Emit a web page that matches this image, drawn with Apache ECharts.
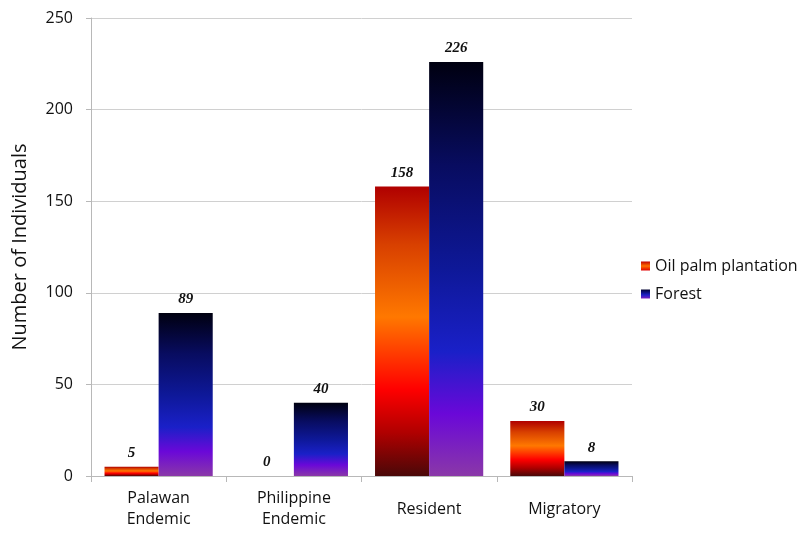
<!DOCTYPE html>
<html><head><meta charset="utf-8">
<script src="https://cdn.jsdelivr.net/npm/echarts@6/dist/echarts.min.js"></script>
<style>html,body{margin:0;padding:0;background:#fff}#c{width:802px;height:539px}</style>
</head><body><div id="c"></div>
<script>
const categories = ['Palawan\nEndemic', 'Philippine\nEndemic', 'Resident', 'Migratory'];
const oilPalm = [5, 0, 158, 30];
const forest = [89, 40, 226, 8];
const yTicks = {min: 0, max: 250, interval: 50};

const oilGrad = new echarts.graphic.LinearGradient(0, 0, 0, 1, [
  {offset: 0, color: '#b00000'},
  {offset: 0.2, color: '#d84000'},
  {offset: 0.45, color: '#ff7800'},
  {offset: 0.7, color: '#ff0000'},
  {offset: 0.85, color: '#b00000'},
  {offset: 1, color: '#4a0808'}
]);
const forestGrad = new echarts.graphic.LinearGradient(0, 0, 0, 1, [
  {offset: 0, color: '#000010'},
  {offset: 0.25, color: '#080c60'},
  {offset: 0.5, color: '#0e1898'},
  {offset: 0.7, color: '#1a20c8'},
  {offset: 0.85, color: '#6a08d8'},
  {offset: 1, color: '#8a38a8'}
]);
const labelStyle = {show: true, position: 'top', fontFamily: 'Liberation Serif', fontWeight: 'bold', fontStyle: 'italic', fontSize: 15, color: '#111', distance: 6};
const axisFont = {fontFamily: 'Open Sans', fontSize: 16, color: '#111'};

const chart = echarts.init(document.getElementById('c'));
chart.setOption({
  animation: false,
  grid: {left: 91, right: 170, top: 18, bottom: 63},
  legend: {
    orient: 'vertical', left: 636, top: 253, itemWidth: 9, itemHeight: 9, itemGap: 12,
    textStyle: {fontFamily: 'Open Sans', fontSize: 16, color: '#111'},
    data: [
      {name: 'Oil palm plantation', icon: 'rect', itemStyle: {color: new echarts.graphic.LinearGradient(0,0,0,1,[{offset:0,color:'#c00000'},{offset:0.5,color:'#ff7000'},{offset:1,color:'#e00000'}])}},
      {name: 'Forest', icon: 'rect', itemStyle: {color: new echarts.graphic.LinearGradient(0,0,0,1,[{offset:0,color:'#000030'},{offset:0.6,color:'#1a20c8'},{offset:1,color:'#7a20c0'}])}}
    ]
  },
  xAxis: {
    type: 'category', data: categories,
    axisLine: {lineStyle: {color: '#b8b8b8'}},
    axisTick: {show: true, length: 6, lineStyle: {color: '#b8b8b8'}},
    axisLabel: Object.assign({}, axisFont, {
      margin: 12, lineHeight: 21,
      formatter: v => v.indexOf('\n') >= 0 ? v : '{s|' + v + '}',
      rich: {s: Object.assign({}, axisFont, {lineHeight: 42})}
    })
  },
  yAxis: {
    type: 'value', min: yTicks.min, max: yTicks.max, interval: yTicks.interval,
    name: 'Number of Individuals', nameLocation: 'middle', nameGap: 61,
    nameTextStyle: {fontFamily: 'Open Sans', fontSize: 20, color: '#111'},
    axisLine: {show: true, lineStyle: {color: '#b8b8b8'}},
    axisTick: {show: true, length: 5, lineStyle: {color: '#b8b8b8'}},
    axisLabel: Object.assign({}, axisFont, {margin: 18}),
    splitLine: {lineStyle: {color: '#d0d0d0'}}
  },
  series: [
    {name: 'Oil palm plantation', type: 'bar', data: oilPalm, barGap: '0%', barCategoryGap: '20%',
      itemStyle: {color: oilGrad}, label: labelStyle},
    {name: 'Forest', type: 'bar', data: forest,
      itemStyle: {color: forestGrad}, label: labelStyle}
  ]
});
</script></body></html>
